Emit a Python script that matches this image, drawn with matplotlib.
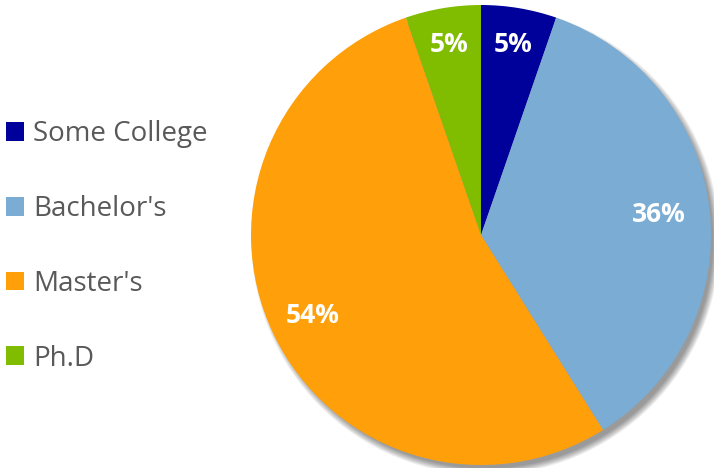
import matplotlib.pyplot as plt
from matplotlib.patches import Circle
import numpy as np

# degree levels
labels = ["Some College", "Bachelor's", "Master's", "Ph.D"]
shares = [5.3, 35.8, 53.6, 5.3]
colors = ["#00009a", "#7bacd3", "#ffa00a", "#80bc00"]

plt.rcParams['font.family'] = ['Open Sans', 'DejaVu Sans']

fig = plt.figure(figsize=(7.14, 4.68), dpi=100)
R = 230
cx, cy = 481, 468 - 235
ax = fig.add_axes([(cx - R) / 714, (cy - R) / 468, 2 * R / 714, 2 * R / 468])

wedges, _ = ax.pie(shares, colors=colors, startangle=90, counterclock=False,
                   radius=1, wedgeprops=dict(linewidth=0))
for w in wedges:
    w.set_clip_on(False)
ax.set_xlim(-1, 1)
ax.set_ylim(-1, 1)
ax.axis("off")

# soft shadow toward bottom right
for i in range(8):
    ax.add_patch(Circle((0.02, -0.025), 0.99 + 0.004 * i, color="black",
                        alpha=0.06, lw=0, clip_on=False, zorder=0))

# percentage labels
dists = [0.84, 0.78, 0.81, 0.84]
for w, s, d in zip(wedges, shares, dists):
    ang = np.deg2rad((w.theta1 + w.theta2) / 2)
    ax.text(d * np.cos(ang), d * np.sin(ang), f"{round(s)}%", color="white",
            fontsize=19, fontweight="bold", ha="center", va="center")

leg = fig.legend(wedges, labels, loc="center left",
                 bbox_to_anchor=(-0.026, (468 - 246.5) / 468), frameon=False,
                 fontsize=20, labelcolor="#595959", handlelength=0.65,
                 handleheight=0.65, handletextpad=0.3, labelspacing=1.68)

fig.savefig("out.png", dpi=100)
